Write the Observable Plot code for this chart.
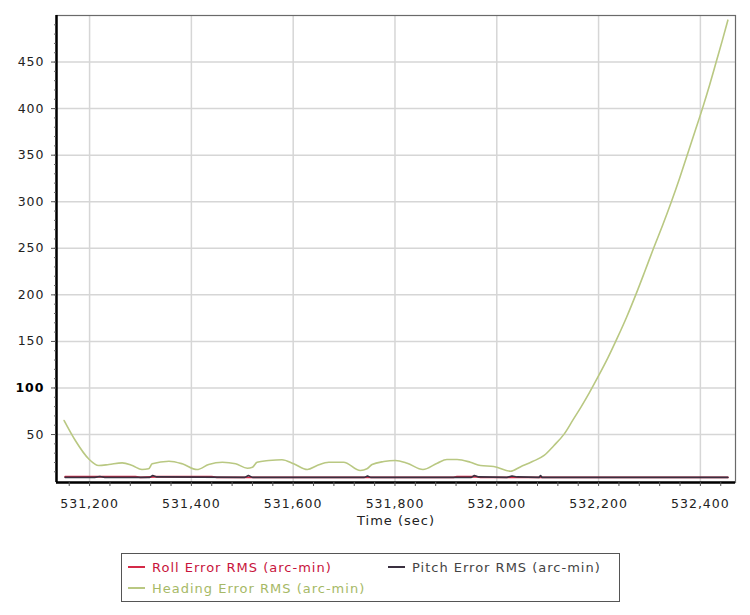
<!DOCTYPE html>
<html><head><meta charset="utf-8">
<script src="https://cdn.jsdelivr.net/npm/d3@7"></script>
<script src="https://cdn.jsdelivr.net/npm/@observablehq/plot@0.6"></script>
<style>
body{margin:0;background:#fff;font-family:"DejaVu Sans",sans-serif;}
#wrap{position:relative;width:750px;height:615px;background:#fff;}
#wrap svg text{letter-spacing:1px;}
#legend{position:absolute;left:121px;top:553px;width:499px;height:49px;border:1px solid #555;box-sizing:border-box;font-size:13px;letter-spacing:1px;background:#fff;}
.item{position:absolute;display:flex;align-items:center;white-space:nowrap;height:16px;}
.sw{display:inline-block;width:17px;height:2px;margin-right:7px;}
</style></head><body><div id="wrap"></div>
<script>
// ---- data ----
const headingTime = [531150,531172,531198,531218,531238,531264,531284,531303,531316,531323,531356,531382,531411,531434,531461,531487,531510,531520,531529,531552,531578,531601,531628,531647,531670,531699,531732,531745,531755,531778,531801,531824,531855,531883,531902,531922,531948,531968,531994,532027,532047,532070,532093,532112,532133,532150,532166,532182,532198,532218,532237,532255,532273,532290,532308,532326,532343,532359,532374,532389,532404,532418,532431,532443,532454];
const headingValue = [65,43.6,24,16.7,17.8,19.6,16.7,12.4,13.2,18.6,21.4,18.6,12.4,17.8,20.3,18.6,13.8,14.9,20.3,22.1,23,18.6,12.4,16.7,20.3,20.3,11.4,13.2,17.8,21,22.1,19.2,12.4,19.2,23.2,23.2,20.3,16.7,15.7,10.6,15.5,21,27.5,38,51,66,80,95,111,132,154,176,200,224,250,275,300,325,350,375,400,425,450,473,495];
const pitchTime = [531152,531210,531220,531230,531318,531324,531332,531505,531512,531520,531740,531746,531752,531950,531956,531964,532020,532030,532040,532083,532086,532089,532454];
const pitchValue = [4.0,4.0,5.0,4.0,4.0,6.0,4.5,4.0,6.0,4.0,4.0,5.5,4.0,4.0,6.0,4.5,4.0,5.5,4.5,4.0,6.0,4.0,4.0];
const rollTime = [531152,531290,531300,531330,531440,531450,531915,531922,531960,531968,532454];
const rollValue = [4.7,4.7,4.0,4.7,4.7,4.0,4.0,4.7,4.7,4.0,4.0];
const xMajor = [531200,531400,531600,531800,532000,532200,532400];
const xMinor = d3.range(531160, 532460, 40);
const yMajor = [50,100,150,200,250,300,350,400,450];
const yMinor = d3.range(10, 500, 10);
const seriesNames = ["Roll Error RMS (arc-min)","Pitch Error RMS (arc-min)","Heading Error RMS (arc-min)"];
const seriesColors = ["#d42a48","#3a3040","#b9c882"];
const legendTextColors = ["#c8143c","#444444","#a6b966"];
const xDomain = [531135, 532469];
const yDomain = [-1.5, 500];

const heading = headingTime.map((t,i)=>({t, v: headingValue[i]}));
const pitch = pitchTime.map((t,i)=>({t, v: pitchValue[i]}));
const roll = rollTime.map((t,i)=>({t, v: rollValue[i]}));

const chart = Plot.plot({
  width: 750, height: 540,
  marginLeft: 56, marginRight: 15, marginTop: 15, marginBottom: 58,
  x: {domain: xDomain, label: null},
  y: {domain: yDomain, label: null},
  style: {fontFamily: "DejaVu Sans", fontSize: "12.5px", color: "#222", background: "white"},
  marks: [
    Plot.gridX(xMajor, {stroke: "#d6d6d6", strokeOpacity: 1, strokeWidth: 1.5}),
    Plot.gridY(yMajor, {stroke: "#d6d6d6", strokeOpacity: 1, strokeWidth: 1.5}),
    Plot.frame({stroke: "#6a6a6a", strokeWidth: 1.2}),
    Plot.line(roll, {x: "t", y: "v", stroke: seriesColors[0], strokeWidth: 1.8}),
    Plot.line(pitch, {x: "t", y: "v", stroke: seriesColors[1], strokeWidth: 1.6}),
    Plot.line(heading, {x: "t", y: "v", stroke: seriesColors[2], strokeWidth: 1.6, curve: "monotone-x"}),
    Plot.ruleX([xDomain[0]], {stroke: "#000", strokeWidth: 2.5}),
    Plot.ruleY([yDomain[0]], {stroke: "#000", strokeWidth: 2.5}),
    Plot.axisY(yMinor, {tickSize: 2, tickFormat: () => "", stroke: "#666", label: null}),
    Plot.axisY(yMajor.filter(d => d !== 100), {tickSize: 5, tickPadding: 7, stroke: "#555", fill: "#222", label: null}),
    Plot.axisY([100], {tickSize: 5, tickPadding: 7, stroke: "#555", fill: "#000", fontWeight: "bold", label: null}),
    Plot.axisX(xMinor, {tickSize: 4, tickFormat: () => "", stroke: "#555", label: null}),
    Plot.axisX(xMajor, {tickSize: 0, tickPadding: 17, tickFormat: d3.format(","), fill: "#222", label: null}),
    Plot.text(["Time (sec)"], {frameAnchor: "bottom", dy: 42, fill: "#222", fontSize: 13})
  ]
});
const wrap = document.getElementById("wrap");
wrap.appendChild(chart);

const legend = document.createElement("div");
legend.id = "legend";
const pos = [[6, 5], [266, 5], [6, 26]];
seriesNames.forEach((name, i) => {
  const it = document.createElement("div");
  it.className = "item";
  it.style.left = pos[i][0] + "px";
  it.style.top = pos[i][1] + "px";
  const sw = document.createElement("span");
  sw.className = "sw";
  sw.style.background = seriesColors[i];
  const tx = document.createElement("span");
  tx.textContent = name;
  tx.style.color = legendTextColors[i];
  it.appendChild(sw); it.appendChild(tx);
  legend.appendChild(it);
});
wrap.appendChild(legend);
</script>
</body></html>
